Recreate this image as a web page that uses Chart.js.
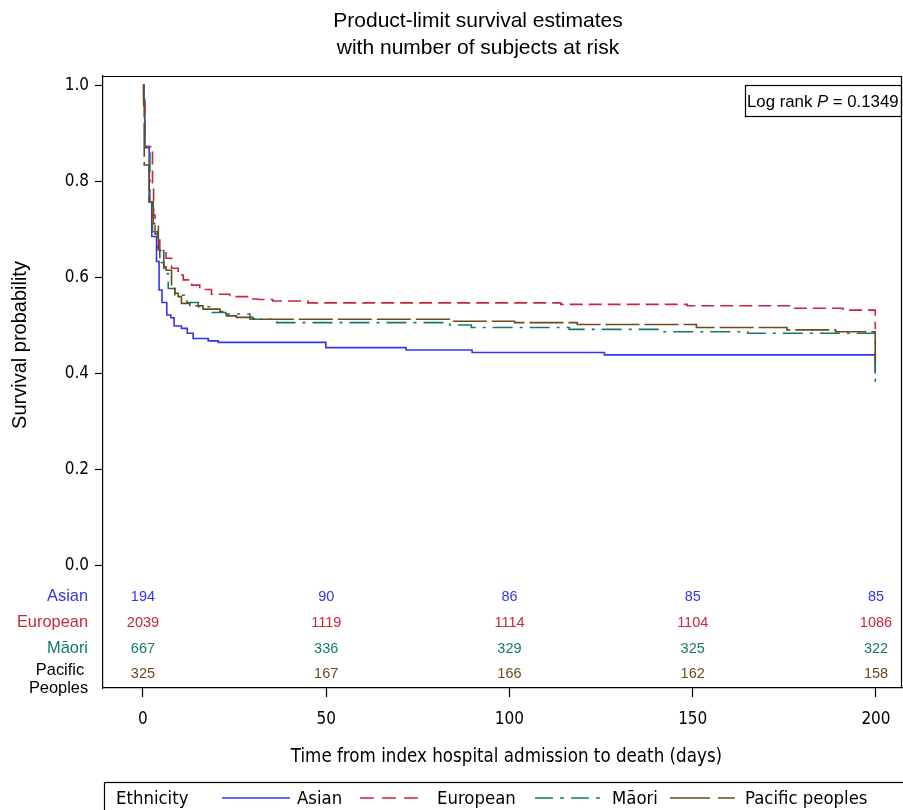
<!DOCTYPE html>
<html><head><meta charset="utf-8">
<script src="https://cdn.jsdelivr.net/npm/chart.js@4.4.1/dist/chart.umd.min.js"></script>
<style>html,body{margin:0;padding:0;background:#fff}#wrap{width:903px;height:810px;position:relative}</style>
</head><body><div id="wrap"><canvas id="c" width="903" height="810"></canvas></div>
<script>
// ---- data ----
const groupNames = ['Asian', 'European', 'Māori', 'Pacific peoples'];
const asianT = [0, 0.2, 0.5, 1.7, 2.4, 3.7, 4.4, 5.2, 6.5, 7.6, 8.5, 10.5, 12.1, 13.7, 17.8, 20.5, 49.9, 71.8, 89.8, 125.9, 199.8];
const asianS = [1.0, 0.97, 0.87, 0.757, 0.685, 0.633, 0.574, 0.548, 0.522, 0.516, 0.499, 0.494, 0.484, 0.473, 0.468, 0.465, 0.454, 0.449, 0.444, 0.439, 0.40];
const europeanT = [0, 0.2, 0.5, 2.6, 2.9, 3.3, 4.6, 6.3, 7.8, 9.6, 11, 13.3, 15.5, 18.7, 23.7, 29.2, 31.3, 35.4, 45, 114, 148.5, 177, 191, 199.8];
const europeanS = [1.0, 0.972, 0.872, 0.785, 0.730, 0.690, 0.656, 0.640, 0.619, 0.605, 0.595, 0.584, 0.575, 0.565, 0.560, 0.555, 0.554, 0.551, 0.547, 0.544, 0.541, 0.536, 0.532, 0.492];
const maoriT = [0, 0.2, 0.5, 1.9, 2.6, 4, 5.7, 6.9, 8.7, 12, 15.1, 18.7, 22.6, 29.2, 36.5, 83.7, 89.6, 116.3, 141.7, 165, 199.8];
const maoriS = [1.0, 0.965, 0.872, 0.757, 0.695, 0.656, 0.608, 0.577, 0.563, 0.548, 0.539, 0.527, 0.524, 0.513, 0.506, 0.501, 0.496, 0.492, 0.487, 0.484, 0.376];
const pacificT = [0, 0.2, 0.35, 1.7, 2.8, 4.2, 4.6, 5.7, 6.3, 7.8, 8.7, 9.6, 10.5, 12.8, 16.4, 21, 22.8, 25.5, 30, 31.3, 83.7, 101.4, 118.5, 151, 175.7, 189, 199.8];
const pacificS = [1.0, 0.958, 0.834, 0.757, 0.712, 0.657, 0.631, 0.622, 0.615, 0.577, 0.567, 0.560, 0.546, 0.541, 0.534, 0.529, 0.520, 0.517, 0.514, 0.513, 0.509, 0.506, 0.502, 0.496, 0.491, 0.487, 0.424];

const riskTimes = [0, 50, 100, 150, 200];
const riskAsian = [194, 90, 86, 85, 85];
const riskEuropean = [2039, 1119, 1114, 1104, 1086];
const riskMaori = [667, 336, 329, 325, 322];
const riskPacific = [325, 167, 166, 162, 158];
const riskRowLabels = ['Asian', 'European', 'Māori', 'Pacific\nPeoples'];

const xTickValues = [0, 50, 100, 150, 200];
const yTickValues = [0, 0.2, 0.4, 0.6, 0.8, 1.0];

const titleLines = ['Product-limit survival estimates', 'with number of subjects at risk'];
const xTitle = 'Time from index hospital admission to death (days)';
const yTitle = 'Survival probability';
const legendTitle = 'Ethnicity';
const pValueText = '0.1349';

// ---- styles ----
const colors = ['#3434f2', '#c8263c', '#127a6c', '#6b4a1c'];
const dashes = [[], [13, 6], [20, 7, 3, 7], [34, 5]];
const rowLabelColors = ['#3434f2', '#c8263c', '#127a6c', '#000'];
const NARROW = "'Liberation Sans Narrow','DejaVu Sans Condensed','Roboto Condensed',Arial,sans-serif";
const SANS = "'Liberation Sans',Arial,sans-serif";

const toPts = (T, S) => T.map((t, i) => ({x: t, y: S[i]}));
const series = [[asianT, asianS], [europeanT, europeanS], [maoriT, maoriS], [pacificT, pacificS]];
const risks = [riskAsian, riskEuropean, riskMaori, riskPacific];

const datasets = series.map((s, i) => ({
  label: groupNames[i],
  data: toPts(s[0], s[1]),
  borderColor: colors[i],
  borderWidth: 1.6,
  borderDash: dashes[i],
  stepped: true,
  pointRadius: 0,
  fill: false,
  order: 3 - i
}));

const RISK_ROWS = [-0.064, -0.118, -0.172, -0.225];

const overlay = {
  id: 'overlay',
  afterDraw(chart) {
    const ctx = chart.ctx, a = chart.chartArea;
    const xs = chart.scales.x, ys = chart.scales.y;
    ctx.save();
    // frame top/right
    ctx.strokeStyle = '#000'; ctx.lineWidth = 1.2;
    ctx.beginPath();
    ctx.moveTo(a.left, a.top + 0.5); ctx.lineTo(a.right, a.top + 0.5);
    ctx.moveTo(a.right - 0.5, a.top); ctx.lineTo(a.right - 0.5, a.bottom);
    ctx.stroke();
    // title
    ctx.fillStyle = '#000'; ctx.textAlign = 'center'; ctx.textBaseline = 'middle';
    ctx.font = '21px ' + SANS;
    ctx.fillText(titleLines[0], 478, 21);
    ctx.fillText(titleLines[1], 478, 48);
    // axis titles
    ctx.font = '18.6px ' + NARROW;
    ctx.fillText(xTitle, (xs.getPixelForValue(0) + xs.getPixelForValue(200)) / 2 - 3, 757);
    ctx.save();
    ctx.translate(20, 345);
    ctx.rotate(-Math.PI / 2);
    ctx.font = '20px ' + SANS;
    ctx.fillText(yTitle, 0, 0);
    ctx.restore();
    // log rank box
    ctx.strokeStyle = '#000'; ctx.lineWidth = 1.2;
    ctx.strokeRect(745.5, 85.5, 156, 31);
    ctx.textAlign = 'left';
    ctx.font = '16.8px ' + SANS;
    let tx = 747;
    const p1 = 'Log rank ';
    ctx.fillText(p1, tx, 102); tx += ctx.measureText(p1).width;
    ctx.font = 'italic 16.8px ' + SANS;
    ctx.fillText('P', tx, 102); tx += ctx.measureText('P').width;
    ctx.font = '16.8px ' + SANS;
    ctx.fillText(' = ' + pValueText, tx, 102);
    // risk table
    ctx.font = '14.5px ' + SANS;
    ctx.textAlign = 'center';
    risks.forEach((row, r) => {
      ctx.fillStyle = colors[r];
      const py = ys.getPixelForValue(RISK_ROWS[r]);
      row.forEach((n, k) => ctx.fillText(String(n), xs.getPixelForValue(riskTimes[k]), py));
    });
    // row labels
    ctx.font = '16.4px ' + SANS;
    riskRowLabels.forEach((lab, r) => {
      ctx.fillStyle = rowLabelColors[r];
      const py = ys.getPixelForValue(RISK_ROWS[r]);
      const parts = lab.split('\n');
      if (parts.length === 1) { ctx.textAlign = 'right'; ctx.fillText(lab, 88, py); }
      else { ctx.textAlign = 'center'; ctx.fillText(parts[0], 60, py - 4); ctx.fillText(parts[1], 58.5, py + 14); }
    });
    // legend
    ctx.strokeStyle = '#000'; ctx.lineWidth = 1.2;
    ctx.strokeRect(104.5, 782.5, 800, 40);
    ctx.fillStyle = '#000'; ctx.textAlign = 'left';
    ctx.font = '18.4px ' + NARROW;
    ctx.fillText(legendTitle, 116, 799);
    const items = [[222, 290, 297], [360, 425, 437], [535, 600, 612], [670, 735, 745]];
    items.forEach((it, i) => {
      ctx.strokeStyle = colors[i]; ctx.lineWidth = 1.6;
      ctx.setLineDash(i === 1 ? [14, 8] : i === 2 ? [18, 7, 4, 7] : i === 3 ? [40, 8] : []);
      ctx.beginPath(); ctx.moveTo(it[0], 798); ctx.lineTo(it[1], 798); ctx.stroke();
      ctx.setLineDash([]);
      ctx.fillStyle = '#000';
      ctx.fillText(groupNames[i], it[2], 799);
    });
    ctx.restore();
  }
};

new Chart(document.getElementById('c'), {
  type: 'line',
  data: {datasets},
  options: {
    responsive: false,
    animation: false,
    layout: {padding: {top: 76, right: 1, left: 0, bottom: 0}},
    plugins: {legend: {display: false}, title: {display: false}, tooltip: {enabled: false}},
    scales: {
      x: {
        type: 'linear', min: -10.9, max: 207.1,
        afterBuildTicks: s => { s.ticks = xTickValues.map(v => ({value: v})); },
        afterFit: s => { s.height = 122; },
        grid: {drawOnChartArea: false, drawTicks: true, tickLength: 9, color: '#000', tickWidth: 1.2},
        border: {display: true, color: '#000', width: 1.2},
        ticks: {font: {family: NARROW, size: 17}, color: '#000', padding: 12, maxRotation: 0, callback: v => String(v)}
      },
      y: {
        type: 'linear', min: -0.254, max: 1.019,
        afterBuildTicks: s => { s.ticks = yTickValues.map(v => ({value: v})); },
        afterFit: s => { s.width = 103; },
        grid: {drawOnChartArea: false, drawTicks: true, tickLength: 8, color: '#000', tickWidth: 1.2},
        border: {display: true, color: '#000', width: 1.2},
        ticks: {font: {family: NARROW, size: 17}, color: '#000', padding: 6, callback: v => Number(v).toFixed(1)}
      }
    }
  },
  plugins: [overlay]
});
</script></body></html>
